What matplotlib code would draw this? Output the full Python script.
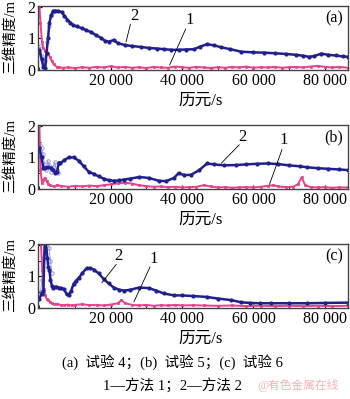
import matplotlib.pyplot as plt
from matplotlib.ticker import MultipleLocator

plt.rcParams['font.family'] = ['Liberation Serif', 'Noto Sans CJK SC']

# (a) 试验 4
a2_x = [0, 600, 1100, 1600, 2000, 2400, 2800, 3300, 3900, 4500, 5200, 6200, 7000, 7800, 8700, 9500,
        10500, 11800, 13000, 14500, 15800, 17200, 18500, 19500, 20800, 22000, 24000, 26000, 28500,
        30700, 33000, 35000, 37000, 39000, 41000, 43400, 45000, 47000, 49000, 51000, 53500, 56600,
        60000, 63000, 66000, 69000, 72000, 74000, 75500, 77000, 79000, 81000, 83000, 85000, 86500]
a2_y = [0.63, 0.35, 0.1, 0.05, 0.55, 1.0, 1.5, 1.75, 1.87, 1.88, 1.87, 1.84, 1.72, 1.6, 1.5, 1.42,
        1.38, 1.33, 1.27, 1.2, 1.11, 1.02, 0.92, 0.9, 0.95, 0.85, 0.79, 0.76, 0.73,
        0.7, 0.68, 0.66, 0.64, 0.64, 0.65, 0.66, 0.74, 0.82, 0.78, 0.72, 0.66, 0.58,
        0.56, 0.55, 0.53, 0.51, 0.48, 0.45, 0.42, 0.44, 0.52, 0.48, 0.46, 0.43, 0.42]
a2e_x = [200, 700, 1200, 1700, 2200, 2700, 3200, 3700]
a2e_y = [0.75, 0.45, 0.15, 0.3, 0.9, 1.4, 1.7, 1.85]
a1_x = [0, 300, 700, 1100, 1600, 2000, 2500, 3000, 3400, 4000, 4800, 5500, 6500, 8000, 10000, 12000,
        14000, 16000, 18000, 20000, 22000, 24000, 26000, 28000, 30000, 32000, 34000, 36000, 38000,
        40000, 42000, 44000, 46000, 48000, 50000, 52000, 54000, 56000, 58000, 60000, 62000, 64000,
        66000, 68000, 70000, 72000, 74000, 76000, 78000, 80000, 82000, 84000, 86500]
a1_y = [2.0, 1.5, 0.9, 0.7, 0.6, 0.55, 0.5, 0.4, 0.3, 0.18, 0.1, 0.08, 0.07, 0.08, 0.06, 0.09,
        0.07, 0.1, 0.08, 0.12, 0.08, 0.1, 0.07, 0.09, 0.06, 0.1, 0.08, 0.07, 0.11,
        0.09, 0.07, 0.1, 0.08, 0.06, 0.09, 0.07, 0.1, 0.08, 0.11, 0.07, 0.09, 0.08,
        0.1, 0.07, 0.09, 0.1, 0.08, 0.11, 0.13, 0.1, 0.08, 0.1, 0.07]

# (b) 试验 5
b2_x = [0, 600, 1100, 1700, 2500, 3300, 3900, 4500, 5000, 5400, 5900, 7000, 8200, 9600, 11000, 12400,
        13800, 15200, 16600, 18000, 19400, 20800, 22300, 23700, 25500, 28000, 30700, 33500, 35500,
        37700, 39000, 40600, 42500, 44800, 47000, 49000, 51800, 55000, 58000, 61000, 64000, 67000,
        70000, 73000, 75000, 78000, 81000, 84000, 86500]
b2_y = [1.3, 1.0, 0.66, 0.68, 0.69, 0.66, 0.6, 0.5, 0.55, 0.84, 0.82, 0.92, 1.0, 1.0, 0.9, 0.72,
        0.55, 0.48, 0.4, 0.33, 0.28, 0.26, 0.27, 0.3, 0.33, 0.38, 0.35, 0.26, 0.25,
        0.35, 0.5, 0.44, 0.45, 0.6, 0.81, 0.78, 0.75, 0.76, 0.78, 0.8, 0.81, 0.79,
        0.75, 0.72, 0.69, 0.66, 0.64, 0.62, 0.6]
b2e_x = [200, 600, 1000, 1400, 1800, 2300, 2800, 3300, 3800, 4300, 4800, 5300]
b2e_y = [1.4, 1.3, 1.1, 0.8, 0.6, 0.9, 0.75, 0.55, 0.7, 0.85, 0.6, 0.5]
b1_x = [0, 300, 700, 1100, 1500, 2000, 2500, 3000, 4000, 5000, 6000, 8000, 10000, 12000, 14000,
        16000, 18000, 20000, 22000, 24000, 26000, 28000, 30000, 32000, 34000, 36000, 38000, 40000,
        42000, 44000, 46000, 48000, 50000, 52000, 54000, 56000, 58000, 60000, 62000, 64000, 65500,
        67000, 69000, 71000, 72500, 73500, 74500, 76000, 78000, 80000, 82000, 84000, 86500]
b1_y = [2.0, 0.6, 0.2, 0.3, 0.35, 0.25, 0.15, 0.12, 0.08, 0.12, 0.1, 0.07, 0.1, 0.08, 0.11,
        0.09, 0.12, 0.15, 0.18, 0.2, 0.17, 0.12, 0.09, 0.07, 0.08, 0.06, 0.07, 0.05,
        0.06, 0.07, 0.12, 0.08, 0.05, 0.06, 0.04, 0.05, 0.06, 0.05, 0.07, 0.1, 0.12,
        0.08, 0.06, 0.07, 0.15, 0.37, 0.12, 0.06, 0.05, 0.06, 0.04, 0.05, 0.05]

# (c) 试验 6
c2_x = [0, 600, 1100, 1500, 1800, 2200, 2500, 2800, 3100, 3500, 3900, 4600, 5400, 6100, 6800, 7600,
        8200, 8900, 9600, 10300, 11000, 12000, 13200, 14200, 15200, 16600, 18000, 19400, 20800,
        22300, 23700, 25500, 28000, 30700, 32800, 34900, 37700, 40000, 43000, 47000, 50000, 53800,
        56600, 59000, 61700, 65000, 70000, 75000, 80000, 86500]
c2_y = [0.3, 0.45, 0.55, 2.1, 2.1, 1.6, 1.3, 1.2, 0.9, 0.7, 0.65, 0.68, 0.65, 0.62, 0.6, 0.45,
        0.4, 0.55, 0.77, 0.87, 0.95, 1.1, 1.26, 1.27, 1.22, 1.1, 0.92, 0.78, 0.65,
        0.58, 0.55, 0.58, 0.65, 0.63, 0.55, 0.46, 0.4, 0.4, 0.38, 0.35, 0.3, 0.25,
        0.18, 0.16, 0.15, 0.15, 0.15, 0.15, 0.16, 0.17]
c2e_x = [300, 700, 1100, 1500, 1900, 2300, 2700, 3100, 3500]
c2e_y = [0.5, 0.9, 1.6, 2.1, 2.1, 2.1, 1.9, 1.5, 1.1]
c1_x = [0, 400, 800, 1200, 1600, 2000, 2500, 3000, 3500, 4000, 5000, 6000, 7000, 8000, 9000, 10000,
        12000, 14000, 16000, 18000, 20000, 22000, 23000, 24000, 26000, 28000, 30000, 32000, 34000,
        36000, 38000, 40000, 43000, 46000, 50000, 54000, 58000, 62000, 66000, 70000, 74000, 78000,
        82000, 86500]
c1_y = [2.1, 2.1, 1.2, 0.6, 0.4, 0.3, 0.25, 0.2, 0.15, 0.13, 0.12, 0.1, 0.09, 0.11, 0.08, 0.1,
        0.12, 0.09, 0.1, 0.08, 0.11, 0.15, 0.25, 0.15, 0.1, 0.08, 0.1, 0.07, 0.09,
        0.08, 0.1, 0.08, 0.09, 0.08, 0.07, 0.08, 0.06, 0.07, 0.06, 0.07, 0.06, 0.07,
        0.06, 0.07]

panels = [
    ('(a)', a1_x, a1_y, a2_x, a2_y, a2e_x, a2e_y, 70),
    ('(b)', b1_x, b1_y, b2_x, b2_y, b2e_x, b2e_y, 189),
    ('(c)', c1_x, c1_y, c2_x, c2_y, c2e_x, c2e_y, 308),
]
# annotation positions (text xy, line start, line end) in data coords per panel
notes = {
    '(a)': [('2', (26500, 1.7), (25500, 1.45), (24300, 0.9)),
            ('1', (42000, 1.6), (41000, 1.3), (36500, 0.16))],
    '(b)': [('2', (57000, 1.65), (56000, 1.4), (51000, 0.82)),
            ('1', (68500, 1.55), (68000, 1.25), (64500, 0.15))],
    '(c)': [('2', (22000, 1.65), (21500, 1.38), (17500, 0.8)),
            ('1', (32000, 1.55), (31000, 1.3), (26500, 0.2))],
}

blue = '#1f1f8f'
pink = '#e8408a'
lblue = '#8c8cdc'

fig = plt.figure(figsize=(3.5, 3.99), dpi=100)
W, H = 350, 399

for tag, x1, y1, x2, y2, xe, ye, bottom in panels:
    top = bottom - 64
    ax = fig.add_axes([38 / W, 1 - bottom / H, 310 / W, (bottom - top) / H])
    ax.plot(xe, ye, color=lblue, lw=0.6, marker='o', ms=2.5, mfc='none', mew=0.6)
    ax.plot(x1, y1, color=pink, lw=1.4, marker='s', ms=1.5, mew=0.5)
    ax.plot(x2, y2, color=blue, lw=1.8, marker='o', ms=2.0)
    ax.set_xlim(-400, 86500)
    ax.set_ylim(0, 2.03)
    ax.set_xticks([20000, 40000, 60000, 80000])
    ax.set_xticklabels(['20 000', '40 000', '60 000', '80 000'])
    ax.xaxis.set_minor_locator(MultipleLocator(10000))
    ax.set_yticks([0, 1, 2])
    ax.yaxis.set_minor_locator(MultipleLocator(0.5))
    ax.tick_params(which='both', direction='in', labelsize=11.5, pad=2)
    ax.tick_params(which='major', length=3)
    ax.tick_params(which='minor', length=2)
    for s in ax.spines.values():
        s.set_color('#444444')
        s.set_linewidth(1.0)
    ax.text(0.985, 0.8, tag, transform=ax.transAxes, ha='right', va='center', fontsize=11.5)
    for lab, txy, p0, p1 in notes[tag]:
        ax.text(*txy, lab, ha='center', va='center', fontsize=12)
        ax.plot([p0[0], p1[0]], [p0[1], p1[1]], color='black', lw=0.6)
    fig.text(10 / W, 1 - (bottom - 33) / H, '三维精度/m', rotation=90,
             ha='center', va='center', fontsize=10.5)
    fig.text(201 / W, 1 - (bottom + 31) / H, '历元/s', ha='center', va='center', fontsize=12)

fig.text(172 / W, 1 - 362 / H, '(a)  试验 4；(b)  试验 5；(c)  试验 6',
         ha='center', va='center', fontsize=10.5)
fig.text(172 / W, 1 - 385 / H, '1—方法 1；2—方法 2', ha='center', va='center', fontsize=10.5)
fig.text(298 / W, 1 - 386 / H, '@有色金属在线', ha='center', va='center',
         fontsize=8.5, color='#f0b4b4')

fig.savefig('out.png', dpi=100)
